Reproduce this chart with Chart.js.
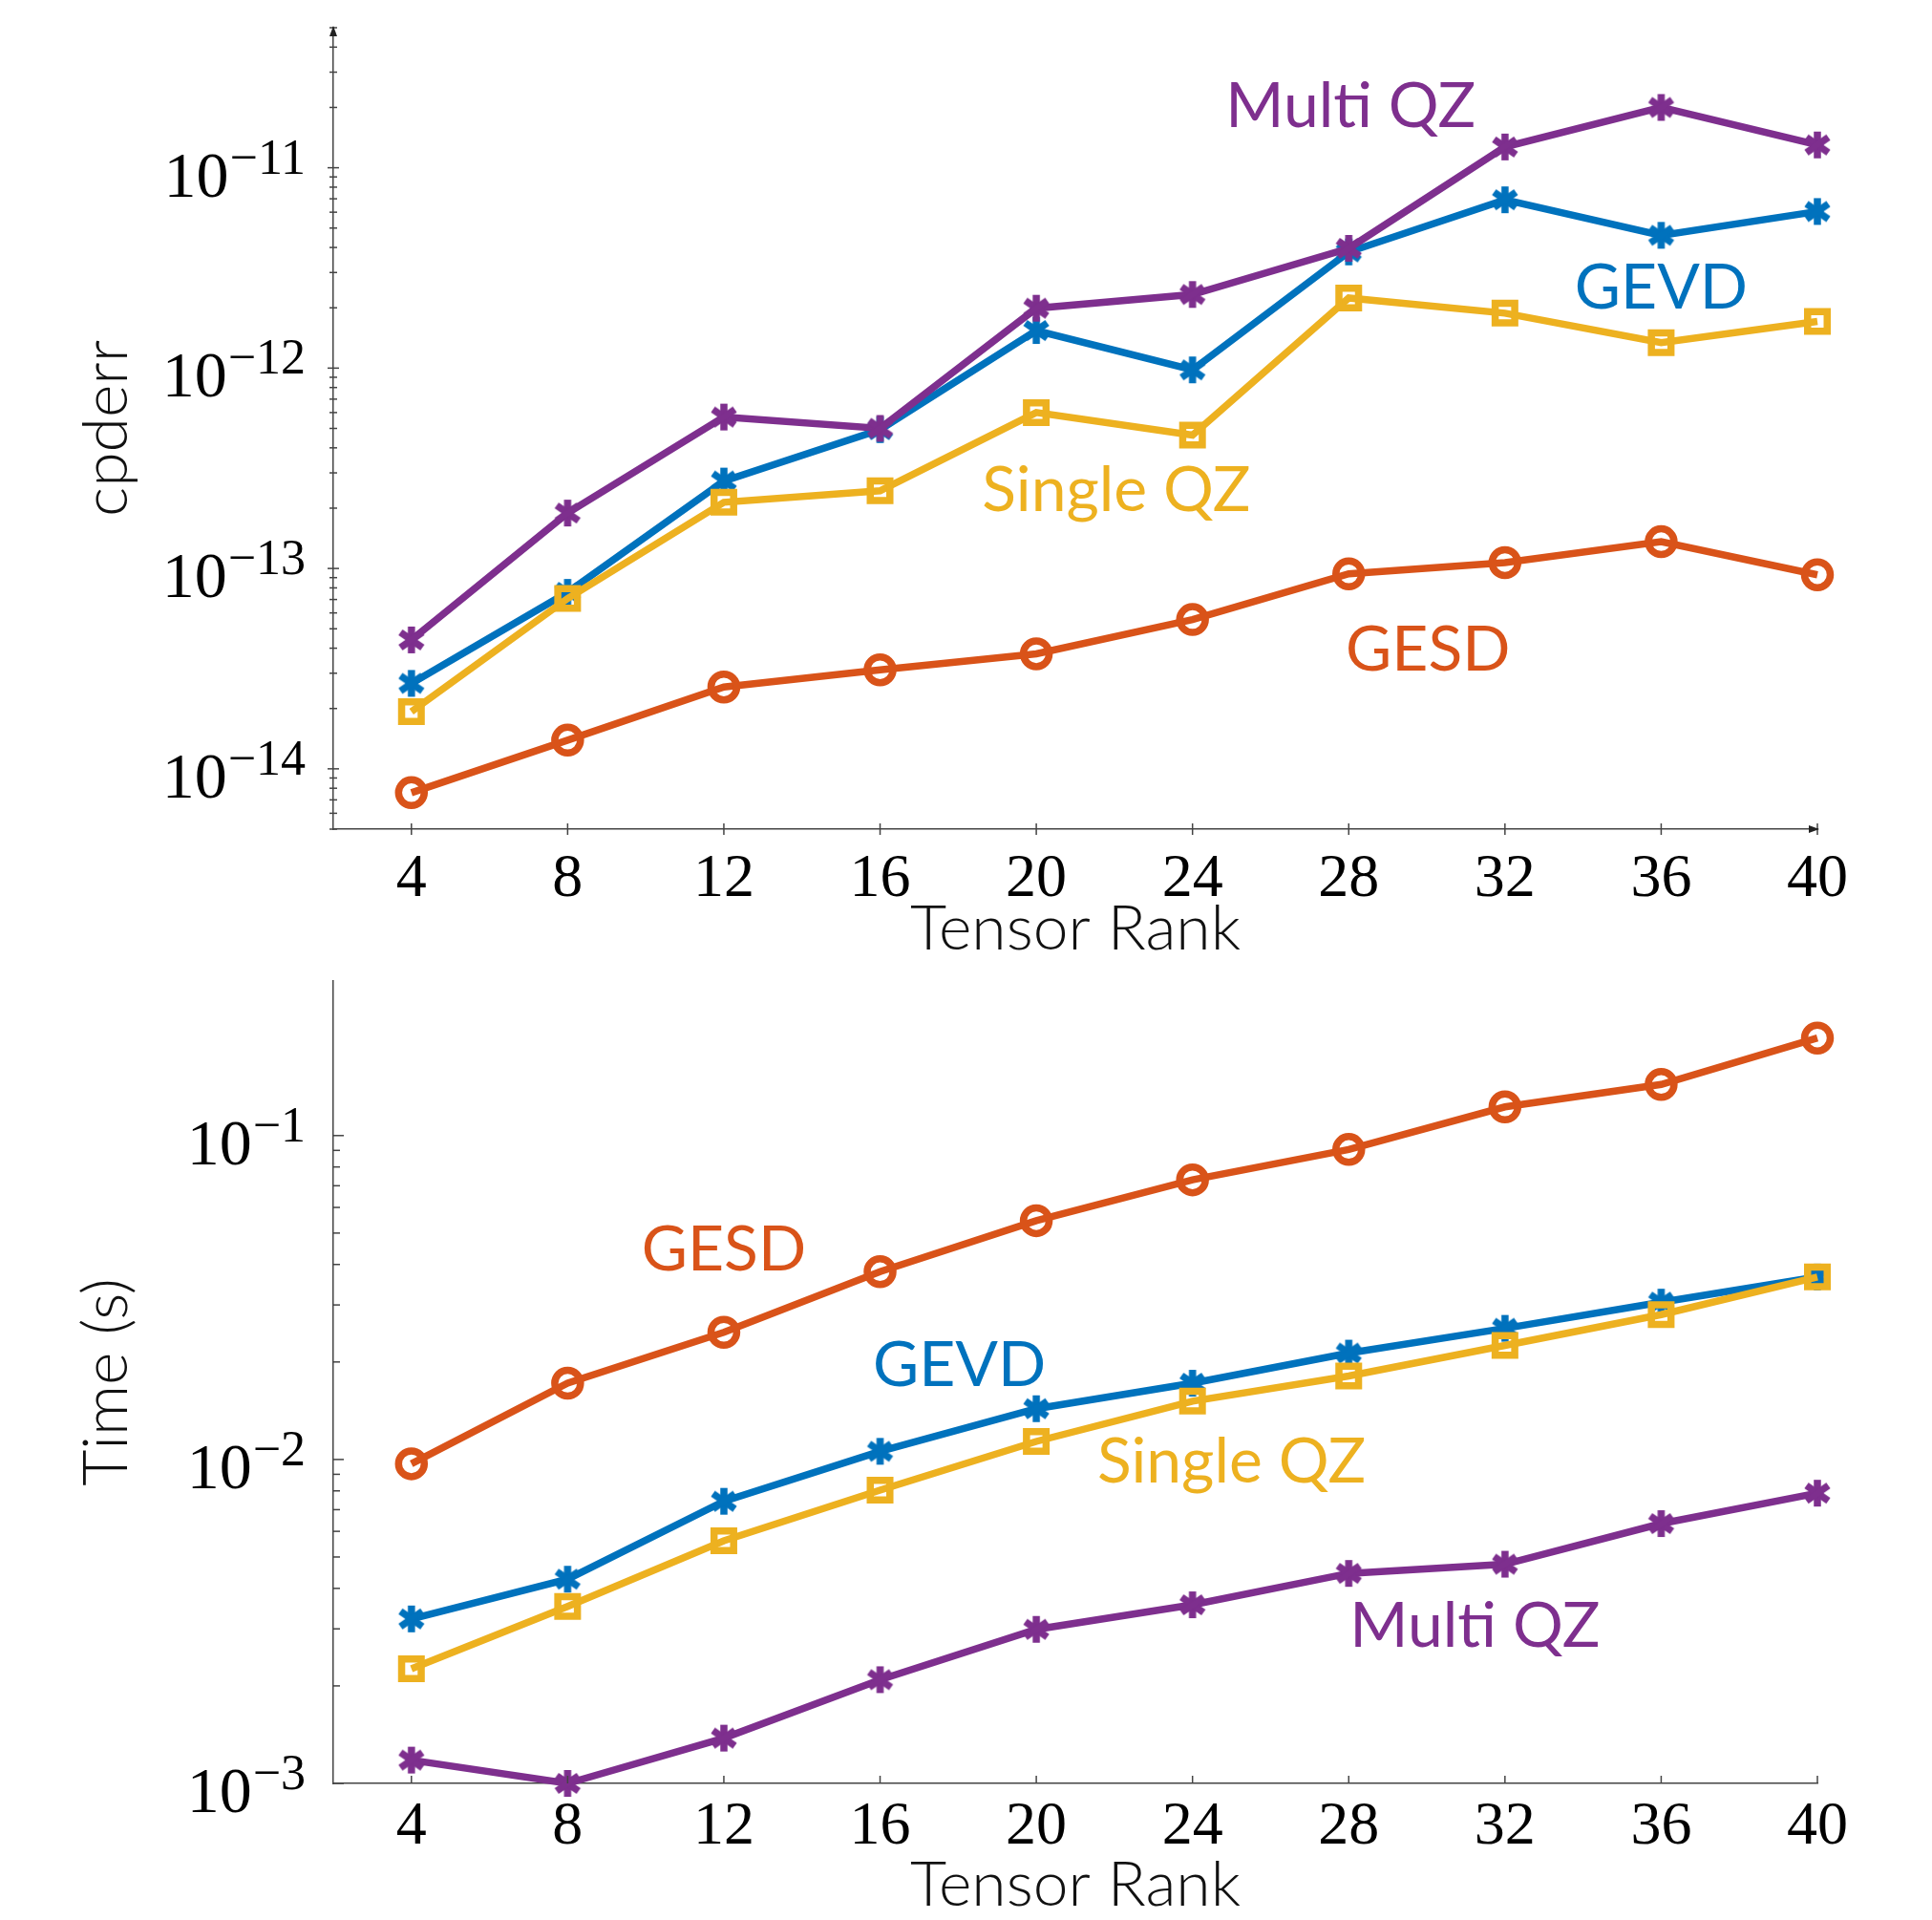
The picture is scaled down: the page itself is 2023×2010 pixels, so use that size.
<!DOCTYPE html>
<html lang="en">
<head>
  <meta charset="UTF-8">
  <title>cpderr and time vs tensor rank</title>
  <script src="https://cdn.jsdelivr.net/npm/chart.js"></script>
  <style>
    body { margin: 0; background: #fff; }
    canvas { position: absolute; left: 0; }
    #errChart { top: 0; }
    #timeChart { top: 1000px; }
  </style>
</head>
<body>
  <canvas id="errChart" width="2023" height="1010"></canvas>
  <canvas id="timeChart" width="2023" height="1010"></canvas>

  <script>
    const ranks = [4, 8, 12, 16, 20, 24, 28, 32, 36, 40];

    // cpderr (top plot)
    const errMultiQZ = [4.4e-14, 1.89e-13, 5.7e-13, 5.0e-13, 1.99e-12, 2.33e-12, 3.96e-12, 1.27e-11, 2.0e-11, 1.30e-11];
    const errGEVD = [2.67e-14, 7.6e-14, 2.73e-13, 4.93e-13, 1.54e-12, 9.8e-13, 3.8e-12, 6.92e-12, 4.6e-12, 6.05e-12];
    const errSingleQZ = [1.93e-14, 7.08e-14, 2.14e-13, 2.44e-13, 6.0e-13, 4.63e-13, 2.24e-12, 1.88e-12, 1.34e-12, 1.71e-12];
    const errGESD = [7.6e-15, 1.39e-14, 2.56e-14, 3.12e-14, 3.75e-14, 5.56e-14, 9.4e-14, 1.07e-13, 1.36e-13, 9.3e-14];

    // time in seconds (bottom plot)
    const timeGESD = [9.7e-3, 0.0172, 0.0247, 0.038, 0.0546, 0.073, 0.0906, 0.1226, 0.1438, 0.2];
    const timeGEVD = [3.22e-3, 4.27e-3, 7.43e-3, 0.0106, 0.01435, 0.0172, 0.0213, 0.0254, 0.0306, 0.0366];
    const timeSingleQZ = [2.26e-3, 3.52e-3, 5.61e-3, 8.04e-3, 0.01137, 0.01514, 0.0181, 0.0225, 0.028, 0.0366];
    const timeMultiQZ = [1.18e-3, 1.0e-3, 1.38e-3, 2.09e-3, 2.99e-3, 3.56e-3, 4.45e-3, 4.75e-3, 6.34e-3, 7.87e-3];

    const BLUE = '#0072BD', ORANGE = '#D95319', YELLOW = '#EDB120', PURPLE = '#7E2F8E';
    const SERIF = '"Liberation Serif", "DejaVu Serif", serif';

    // six-armed asterisk marker like the matlab/pgfplots one
    function asterisk(color) {
      const c = document.createElement('canvas');
      c.width = c.height = 38;
      const g = c.getContext('2d');
      g.strokeStyle = color;
      g.lineWidth = 7.5;
      g.translate(19, 19);
      [90, 35, -35].forEach(a => {
        const r = a * Math.PI / 180;
        g.beginPath();
        g.moveTo(-14 * Math.cos(r), -14 * Math.sin(r));
        g.lineTo(14 * Math.cos(r), 14 * Math.sin(r));
        g.stroke();
      });
      return c;
    }

    function series(label, values, color, marker) {
      const ds = {
        label: label,
        data: values,
        borderColor: color,
        backgroundColor: 'rgba(0,0,0,0)',
        borderWidth: 7.5,
        tension: 0,
        pointBorderColor: color,
        pointBackgroundColor: 'rgba(0,0,0,0)',
        pointBorderWidth: 7.5,
        clip: false
      };
      if (marker === 'star') {
        ds.pointStyle = asterisk(color);
        ds.pointRadius = 14;
      } else if (marker === 'rect') {
        ds.pointStyle = 'rect';
        ds.pointRadius = 14.5;
      } else {
        ds.pointStyle = 'circle';
        ds.pointRadius = 13.5;
      }
      return ds;
    }

    // axis ticks, arrows, 10^k labels and the curve names
    const axisDecor = {
      id: 'axisDecor',
      afterDatasetsDraw(chart, args, opts) {
        const ctx = chart.ctx;
        const xs = chart.scales.x, ys = chart.scales.y;
        const { left, right, top, bottom } = chart.chartArea;
        ctx.save();
        ctx.strokeStyle = '#444';
        ctx.lineWidth = 1.5;

        const tick = (x1, y1, x2, y2) => {
          ctx.beginPath(); ctx.moveTo(x1, y1); ctx.lineTo(x2, y2); ctx.stroke();
        };

        // x ticks
        ranks.forEach(r => {
          const px = xs.getPixelForValue(r);
          if (opts.arrows) tick(px, bottom - 6, px, bottom + 6);
          else tick(px, bottom, px, bottom - 8);
        });

        // y ticks (log)
        const lo = Math.floor(Math.log10(ys.min)), hi = Math.ceil(Math.log10(ys.max));
        for (let d = lo; d <= hi; d++) {
          for (let m = 1; m <= 9; m++) {
            const v = m * Math.pow(10, d);
            if (v < ys.min * 0.999 || v > ys.max * 1.001) continue;
            if (opts.minorTop && v > opts.minorTop) continue;
            const py = ys.getPixelForValue(v);
            const major = m === 1;
            if (opts.arrows) {
              const h = major ? 6 : 4;
              tick(left - h, py, left + h, py);
            } else {
              tick(left, py, left + (major ? 11 : 7), py);
            }
            if (major) {
              ctx.fillStyle = '#000';
              ctx.textBaseline = 'alphabetic';
              ctx.textAlign = 'right';
              const exp = '\u2212' + Math.abs(d);
              const ex = left - 29;
              ctx.font = '52px ' + SERIF;
              ctx.fillText(exp, ex, py + 6);
              const w = ctx.measureText(exp).width;
              ctx.font = '68px ' + SERIF;
              ctx.fillText('10', ex - w - 1, py + 30);
            }
          }
        }

        // arrow heads on the top plot
        if (opts.arrows) {
          ctx.fillStyle = '#222';
          ctx.beginPath();
          ctx.moveTo(left, top - 2); ctx.lineTo(left - 4, top + 9); ctx.lineTo(left + 4, top + 9);
          ctx.closePath(); ctx.fill();
          ctx.beginPath();
          ctx.moveTo(right + 2, bottom); ctx.lineTo(right - 9, bottom - 4); ctx.lineTo(right - 9, bottom + 4);
          ctx.closePath(); ctx.fill();
        }

        // curve names
        ctx.font = '66px Lato';
        ctx.textAlign = 'center';
        ctx.textBaseline = 'alphabetic';
        (opts.notes || []).forEach(n => {
          ctx.fillStyle = n.color;
          ctx.fillText(n.text, xs.getPixelForValue(n.x), ys.getPixelForValue(n.y) + 23);
        });
        ctx.restore();
      }
    };

    function makeChart(id, datasets, yMin, yMax, yTitle, pad, xHeight, tickPad, decor) {
      const ctx = document.getElementById(id).getContext('2d');
      return new Chart(ctx, {
        type: 'line',
        data: { labels: ranks, datasets: datasets },
        options: {
          responsive: false,
          animation: false,
          layout: { padding: pad },
          plugins: {
            legend: { display: false },
            tooltip: { enabled: false },
            axisDecor: decor
          },
          scales: {
            x: {
              type: 'linear',
              min: 2,
              max: 40,
              afterBuildTicks: s => { s.ticks = ranks.map(v => ({ value: v })); },
              afterFit: s => { s.height = xHeight; },
              grid: { display: false, drawTicks: false },
              border: { display: true, color: '#444', width: 1.5 },
              ticks: {
                autoSkip: false,
                maxRotation: 0,
                padding: tickPad,
                color: '#000',
                font: { family: SERIF, size: 64 }
              },
              title: {
                display: true,
                text: 'Tensor Rank',
                color: '#111',
                padding: 0,
                font: { family: 'Lato', size: 66, weight: 300, lineHeight: 1 }
              }
            },
            y: {
              type: 'logarithmic',
              min: yMin,
              max: yMax,
              afterFit: s => { s.width = 349 - pad.left; },
              grid: { display: false, drawTicks: false },
              border: { display: true, color: '#444', width: 1.5 },
              ticks: { display: false },
              title: {
                display: true,
                text: yTitle,
                color: '#111',
                padding: 0,
                font: { family: 'Lato', size: 66, weight: 300, lineHeight: 1 }
              }
            }
          }
        },
        plugins: [axisDecor]
      });
    }

    // x positions in data units, y in the plot's own units
    const errNotes = [
      { text: 'Multi QZ', x: 28.05, y: 2.06e-11, color: PURPLE },
      { text: 'GEVD', x: 36.0, y: 2.55e-12, color: BLUE },
      { text: 'Single QZ', x: 22.05, y: 2.49e-13, color: YELLOW },
      { text: 'GESD', x: 30.03, y: 3.98e-14, color: ORANGE }
    ];
    const timeNotes = [
      { text: 'GESD', x: 12.0, y: 0.0449, color: ORANGE },
      { text: 'GEVD', x: 18.03, y: 0.0197, color: BLUE },
      { text: 'Single QZ', x: 25.0, y: 0.00993, color: YELLOW },
      { text: 'Multi QZ', x: 31.23, y: 0.00308, color: PURPLE }
    ];

    makeChart('errChart', [
      series('Multi QZ', errMultiQZ, PURPLE, 'star'),
      series('Single QZ', errSingleQZ, YELLOW, 'rect'),
      series('GEVD', errGEVD, BLUE, 'star'),
      series('GESD', errGESD, ORANGE, 'circle')
    ], 5e-15, 5e-11, 'cpderr', { left: 79, right: 120, top: 29, bottom: 4 }, 138, 15, { arrows: true, notes: errNotes });

    makeChart('timeChart', [
      series('Multi QZ', timeMultiQZ, PURPLE, 'star'),
      series('Single QZ', timeSingleQZ, YELLOW, 'rect'),
      series('GEVD', timeGEVD, BLUE, 'star'),
      series('GESD', timeGESD, ORANGE, 'circle')
    ], 1e-3, 0.3, 'Time (s)', { left: 79, right: 120, top: 27, bottom: 3 }, 140, 8, { arrows: false, minorTop: 0.1, notes: timeNotes });
  </script>
</body>
</html>
